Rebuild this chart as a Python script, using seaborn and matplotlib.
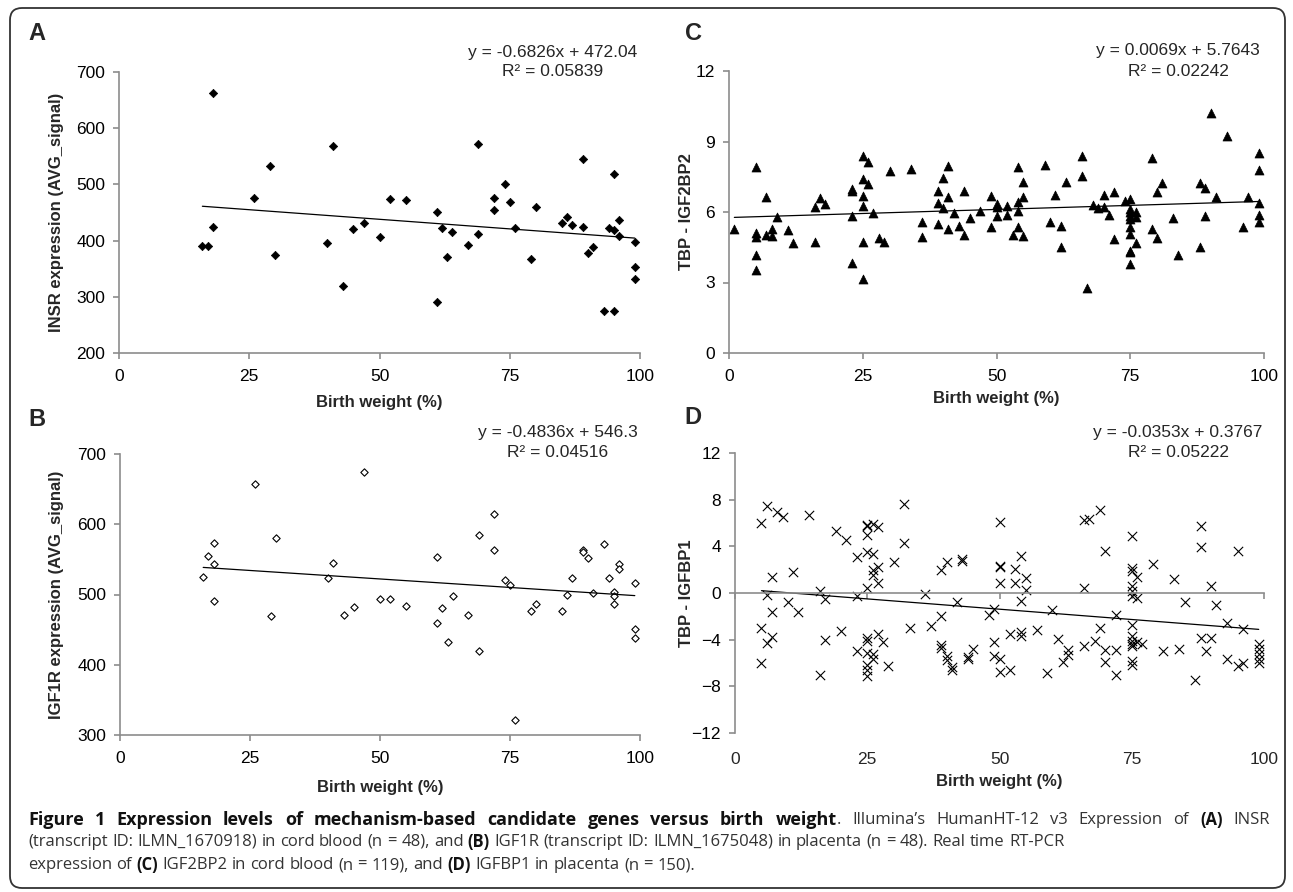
import numpy as np
import matplotlib.pyplot as plt
import seaborn as sns
from matplotlib.patches import FancyBboxPatch

# ---- data ----
# (A) INSR, cord blood
a_x = [16, 17, 18, 18, 26, 29, 30, 40, 41, 43, 45, 47, 50, 52, 55, 61, 61, 62, 63, 64, 67, 69, 69,
       72, 72, 74, 75, 76, 79, 80, 85, 86, 87, 89, 89, 90, 91, 93, 94, 95, 95, 95, 96, 96, 99, 99, 99]
a_y = [390, 391, 663, 424, 475, 532, 374, 396, 568, 320, 420, 432, 407, 474, 472, 450, 291, 422, 370, 416, 393, 572, 411,
       475, 454, 500, 468, 422, 367, 460, 432, 442, 428, 545, 425, 378, 389, 275, 423, 519, 275, 419, 437, 408, 398, 353, 332]

# (B) IGF1R, placenta
b_x = [16, 17, 18, 18, 18, 26, 29, 30, 40, 41, 43, 45, 47, 50, 52, 55, 61, 61, 62, 63, 64, 67, 69, 69,
       72, 72, 74, 75, 76, 79, 80, 85, 86, 87, 89, 89, 90, 91, 93, 94, 95, 95, 95, 96, 96, 99, 99, 99]
b_y = [525, 555, 574, 544, 491, 658, 469, 581, 524, 545, 471, 482, 675, 493, 494, 484, 554, 460, 481, 433, 498, 471, 585, 419,
       614, 564, 521, 513, 322, 477, 487, 477, 500, 524, 564, 561, 552, 502, 572, 524, 503, 498, 487, 543, 536, 517, 451, 438]

# (C) TBP - IGF2BP2, cord blood
c_x = [1, 5, 5, 5, 5, 5, 7, 7, 8, 8, 9, 11, 12, 16, 16, 17, 18, 23, 23, 23, 23,
       25, 25, 25, 25, 25, 25, 26, 26, 27, 28, 29, 30, 34, 36, 36, 39, 39, 39, 40, 40,
       41, 41, 41, 42, 43, 44, 44, 45, 47, 49, 49, 50, 50, 50, 52, 52, 53, 54, 54, 54, 54,
       55, 55, 55, 59, 60, 61, 62, 62, 63, 66, 66, 67, 68, 69, 70, 70, 71, 72, 72, 74,
       75, 75, 75, 75, 75, 75, 75, 75, 75, 75, 76, 76, 76, 79, 79, 80, 80, 81, 83, 84,
       88, 88, 89, 89, 90, 91, 93, 96, 97, 99, 99, 99, 99, 99]
c_y = [5.28, 7.90, 5.10, 4.93, 4.15, 3.54, 6.63, 5.04, 5.28, 4.97, 5.78, 5.25, 4.67, 6.20, 4.74, 6.60, 6.35, 6.98, 6.88, 5.82, 3.82,
       8.40, 7.41, 6.70, 6.25, 4.72, 3.17, 8.12, 7.20, 5.95, 4.90, 4.74, 7.76, 7.83, 5.57, 4.94, 6.91, 6.37, 5.50, 7.45, 6.16,
       7.97, 6.63, 5.28, 5.95, 5.42, 6.91, 5.03, 5.74, 6.06, 6.66, 5.35, 6.35, 6.23, 5.81, 6.27, 5.89, 5.04, 7.93, 6.42, 6.06, 5.35,
       7.29, 6.63, 4.96, 8.02, 5.57, 6.73, 5.42, 4.50, 7.29, 8.40, 7.55, 2.78, 6.30, 6.18, 6.74, 6.20, 5.88, 6.84, 4.86, 6.46,
       6.56, 6.13, 5.99, 5.85, 5.71, 5.35, 5.07, 4.36, 4.29, 3.80, 5.99, 5.78, 4.67, 8.29, 5.28, 6.84, 4.90, 7.22, 5.74, 4.15,
       7.22, 4.50, 7.03, 5.85, 10.21, 6.63, 9.22, 5.35, 6.63, 8.50, 7.80, 6.37, 5.88, 5.57]

# (D) TBP - IGFBP1, placenta
d_x = [5, 5, 5, 6, 6, 6, 7, 7, 7, 8, 9, 10, 11, 12, 14, 16, 16, 17, 17, 19, 20, 21, 23, 23, 23,
       25, 25, 25, 25, 25, 25, 25, 25, 25, 25, 25, 26, 26, 26, 26, 26, 26, 27, 27, 27, 27, 28, 29, 30,
       32, 32, 33, 36, 37, 39, 39, 39, 39, 40, 40, 40, 41, 41, 42, 43, 43, 44, 44, 45, 48, 49, 49, 49,
       50, 50, 50, 50, 50, 50, 52, 52, 53, 53, 54, 54, 54, 54, 55, 55, 57, 59, 60, 61, 62, 63, 63,
       66, 66, 66, 67, 68, 69, 69, 70, 70, 70, 72, 72, 72,
       75, 75, 75, 75, 75, 75, 75, 75, 75, 75, 75, 75, 75, 76, 76, 76, 77, 79, 81, 83, 84, 85, 87,
       88, 88, 88, 89, 90, 90, 91, 93, 93, 95, 95, 96, 96, 99, 99, 99, 99, 99]
d_y = [6.0, -3.0, -6.0, 7.49, -0.14, -4.29, 1.34, -1.63, -3.77, 6.94, 6.49, -0.77, 1.77, -1.66, 6.66, 0.14, -7.06, -0.51, -4.06,
       5.29, -3.29, 4.51, 3.06, -0.23, -4.94,
       5.86, 5.71, 5.0, 3.49, 0.43, -3.86, -4.14, -5.14, -6.14, -6.57, -7.09, 5.94, 3.34, 2.0, 1.57, -5.23, -5.66,
       5.63, 2.23, 0.86, -3.49, -4.23, -6.23, 2.66,
       7.66, 4.29, -3.0, -0.06, -2.86, 2.0, -1.94, -4.43, -4.71, 2.63, -5.43, -5.71, -6.34, -6.63, -0.8, 2.94, 2.77,
       -5.51, -5.66, -4.8, -1.86, -1.34, -4.23, -5.43,
       6.06, 2.34, 2.2, 0.86, -5.66, -6.77, -3.51, -6.63, 2.09, 0.86, 3.14, -0.71, -3.37, -3.71, 1.29, 0.29,
       -3.14, -6.86, -1.49, -3.94, -5.94, -4.86, -5.29,
       6.29, 0.43, -4.57, 6.34, -4.09, 7.09, -3.0, 3.63, -4.91, -5.91, -1.91, -4.91, -7.0,
       4.86, 2.14, 1.86, 0.57, 0.14, -0.23, -2.77, -3.71, -4.14, -4.34, -4.57, -5.86, -6.14, 1.37, -0.43, -4.23,
       -4.37, 2.49, -4.94, 1.2, -4.77, -0.77, -7.49,
       5.77, 3.91, -3.86, -5.0, 0.57, -3.86, -1.0, -2.57, -5.63, 3.63, -6.29, -3.06, -6.0,
       -4.37, -4.8, -5.23, -5.63, -6.0]

# linear trend lines as printed on the chart
slopes = [-0.6826, -0.4836, 0.0069, -0.0353]
intercepts = [472.04, 546.3, 5.7643, 0.3767]
eq_labels = ['y = -0.6826x + 472.04', 'y = -0.4836x + 546.3', 'y = 0.0069x + 5.7643', 'y = -0.0353x + 0.3767']
r2_labels = ['R² = 0.05839', 'R² = 0.04516', 'R² = 0.02242', 'R² = 0.05222']
y_labels = ['INSR expression (AVG_signal)', 'IGF1R expression (AVG_signal)', 'TBP - IGF2BP2', 'TBP - IGFBP1']
letters = ['A', 'B', 'C', 'D']
x_ticks = [0, 25, 50, 75, 100]
y_ticks = [[200, 300, 400, 500, 600, 700], [300, 400, 500, 600, 700], [0, 3, 6, 9, 12], [-12, -8, -4, 0, 4, 8, 12]]

sns.set_theme(style='white')
plt.rcParams['font.family'] = ['Liberation Sans', 'DejaVu Sans']

W, H = 1293, 892
fig = plt.figure(figsize=(W / 100, H / 100), dpi=100)
GRAY = '#8c8c8c'


def px_rect(left, right, top, bottom):
    return [left / W, 1 - bottom / H, (right - left) / W, (bottom - top) / H]


rects = [px_rect(119, 640, 72, 353), px_rect(120, 640, 454, 735),
         px_rect(729, 1264, 71, 353), px_rect(735, 1264, 453, 733)]
eq_pos = [(553, 52, 72), (558, 433, 453), (1178, 50, 71), (1178, 433, 453)]
letter_pos = [(37, 33), (37, 420), (693, 34), (693, 418)]
ylabel_x = [-0.106, -0.108, -0.065, -0.078]
xlabel_pad = [8, 10, 5, 5]

xs_all = [a_x, b_x, c_x, d_x]
ys_all = [a_y, b_y, c_y, d_y]

for i in range(4):
    ax = fig.add_axes(rects[i])
    x, y = xs_all[i], ys_all[i]
    if i == 0:
        sns.scatterplot(x=x, y=y, ax=ax, marker='D', s=18, color='black', edgecolor='black', linewidth=0.5)
    elif i == 1:
        sns.scatterplot(x=x, y=y, ax=ax, marker='D', s=14, color='white', edgecolor='black', linewidth=0.8)
    elif i == 2:
        sns.scatterplot(x=x, y=y, ax=ax, marker='^', s=42, color='black', edgecolor='black', linewidth=0.5)
    else:
        sns.scatterplot(x=x, y=y, ax=ax, marker='x', s=45, color='black', linewidth=0.8)

    xl = np.array([min(x), max(x)])
    ax.plot(xl, slopes[i] * xl + intercepts[i], color='black', lw=0.9)

    ax.set_xlim(0, 100)
    ax.set_xticks(x_ticks)
    ax.set_ylim(y_ticks[i][0], y_ticks[i][-1])
    ax.set_yticks(y_ticks[i])
    ax.set_facecolor('white')
    for s in ['top', 'right']:
        ax.spines[s].set_visible(False)
    for s in ['left', 'bottom']:
        ax.spines[s].set_color(GRAY)
        ax.spines[s].set_linewidth(1.2)
    ax.tick_params(direction='out', length=4, width=1.2, color=GRAY, labelsize=12.5,
                   labelcolor='black', left=True, bottom=True)
    ax.tick_params(axis='x', pad=7.5)
    ax.tick_params(axis='y', pad=6)

    if i == 3:
        # x axis crosses at zero, tick labels stay at the bottom
        ax.spines['bottom'].set_position(('data', 0))
        ax.tick_params(axis='x', labelbottom=False)
        sec = ax.secondary_xaxis('bottom')
        sec.set_xticks(x_ticks)
        sec.spines['bottom'].set_visible(False)
        sec.tick_params(length=0, pad=14, labelsize=12.5)
        sec.set_xlabel('Birth weight (%)', fontsize=12, fontweight='bold', labelpad=xlabel_pad[i])
    else:
        ax.set_xlabel('Birth weight (%)', fontsize=12, fontweight='bold', labelpad=xlabel_pad[i])

    ax.set_ylabel(y_labels[i], fontsize=12, fontweight='bold')
    ax.yaxis.set_label_coords(ylabel_x[i], 0.5)

    cx, y1, y2 = eq_pos[i]
    fig.text(cx / W, 1 - y1 / H, eq_labels[i], ha='center', va='center', fontsize=12.5)
    fig.text(cx / W, 1 - y2 / H, r2_labels[i], ha='center', va='center', fontsize=12.5)
    lx, ly = letter_pos[i]
    fig.text(lx / W, 1 - ly / H, letters[i], ha='center', va='center', fontsize=17, fontweight='bold')

# rounded frame around the whole figure
frame = FancyBboxPatch((0.10, 0.04), 12.75, 8.80, boxstyle='round,pad=0,rounding_size=0.12',
                       transform=fig.dpi_scale_trans, fill=False, edgecolor='#333333', lw=1.3)
fig.add_artist(frame)

# caption: pieces of (text, style, space before); style 0 regular, 1 bold, 2 bold title
caption = [
    [('Figure 1 Expression levels of mechanism-based candidate genes versus birth weight', 2, False),
     ('. Illumina’s HumanHT-12 v3 Expression of', 0, False), ('(A)', 1, True), ('INSR', 0, True)],
    [('(transcript ID: ILMN_1670918) in cord blood (n = 48), and', 0, False), ('(B)', 1, True),
     ('IGF1R (transcript ID: ILMN_1675048) in placenta (n = 48). Real time RT-PCR', 0, True)],
    [('expression of', 0, False), ('(C)', 1, True), ('IGF2BP2 in cord blood (n = 119), and', 0, True),
     ('(D)', 1, True), ('IGFBP1 in placenta (n = 150).', 0, True)],
]
cap_y = [820, 842, 865]
cap_justify = [True, False, False]
cap_left, cap_right = 28, 1270
styles = {0: dict(fontsize=12, fontweight='normal', color='#333333'),
          1: dict(fontsize=12, fontweight='bold', color='#111111'),
          2: dict(fontsize=13, fontweight='bold', color='#111111')}
cap_font = ['Open Sans', 'DejaVu Sans']
renderer = fig.canvas.get_renderer()


def text_w(s, st):
    t = fig.text(0, 0, s, family=cap_font, **styles[st])
    w = t.get_window_extent(renderer).width
    t.remove()
    return w


space_w = text_w('x x', 0) - text_w('xx', 0)

for line, yy, just in zip(caption, cap_y, cap_justify):
    # the line is placed word by word so the first line can be justified
    words = []
    for s, st, gap in line:
        for j, w in enumerate(s.split(' ')):
            words.append((w, st, gap if j == 0 else True))
    widths = [text_w(w, st) for w, st, _ in words]
    n_gaps = sum(1 for _, _, g in words if g)
    natural = sum(widths) + n_gaps * space_w
    gap_w = space_w
    if just and n_gaps:
        gap_w = space_w + max(0.0, (cap_right - cap_left - natural) / n_gaps)
    xpos = float(cap_left)
    for (w, st, gap), wd in zip(words, widths):
        if gap:
            xpos += gap_w
        fig.text(xpos / W, 1 - yy / H, w, family=cap_font, va='center', ha='left', **styles[st])
        xpos += wd

fig.savefig('out.png', dpi=100)
